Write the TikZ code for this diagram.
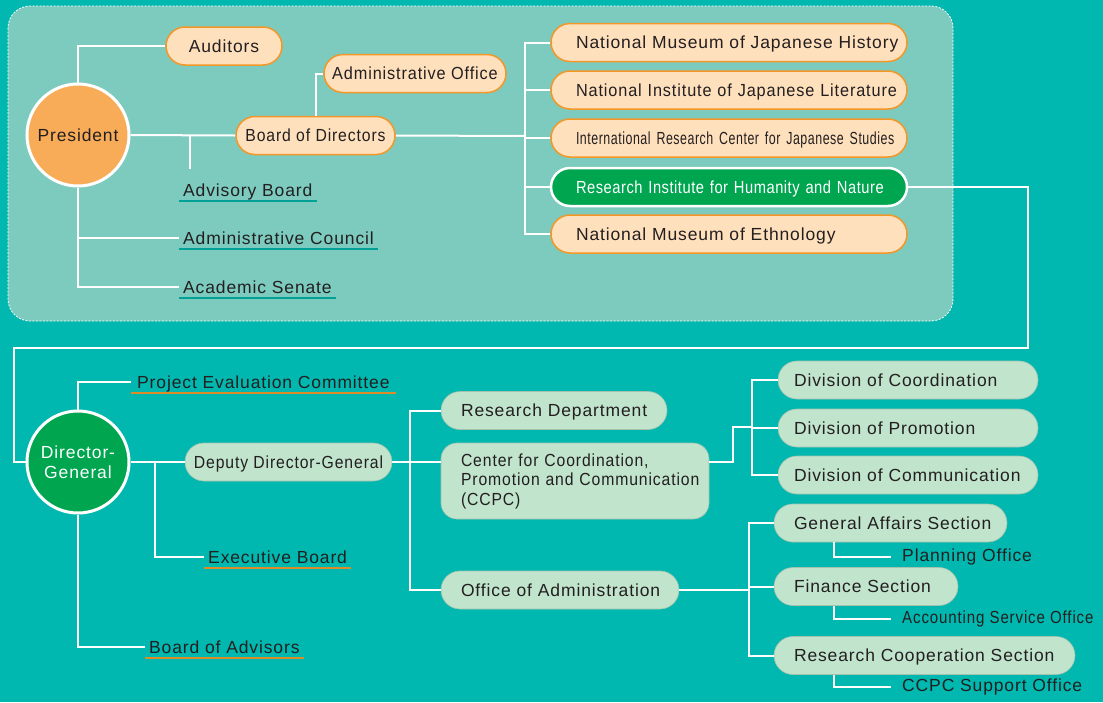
\documentclass[tikz,border=0pt]{standalone}
\usepackage{fontspec}
\setmainfont{Liberation Sans}[LetterSpace=5]
\newfontfamily\trimfont{Liberation Sans}[FakeStretch=0.93,LetterSpace=5]
\newfontfamily\slimfont{Liberation Sans}[FakeStretch=0.9,LetterSpace=5]
\newfontfamily\tightfont{Liberation Sans}[FakeStretch=0.86,LetterSpace=5]
\newfontfamily\narrowfont{Liberation Sans}[FakeStretch=0.84,LetterSpace=3]
\newfontfamily\narrowerfont{Liberation Sans}[FakeStretch=0.71,LetterSpace=3]
\usepackage{tikz}
\usetikzlibrary{positioning,calc}

\definecolor{bgteal}{RGB}{0,184,175}
\definecolor{panelfill}{RGB}{124,203,190}
\definecolor{peachfill}{RGB}{255,224,189}
\definecolor{orangeline}{RGB}{243,152,40}
\definecolor{presorange}{RGB}{248,172,88}
\definecolor{dggreen}{RGB}{0,165,80}
\definecolor{mintfill}{RGB}{193,228,205}
\definecolor{ulteal}{RGB}{0,160,150}
\definecolor{ulorange}{RGB}{222,140,40}
\definecolor{ink}{RGB}{35,31,32}

\tikzset{
  wire/.style={draw=white, line width=2pt},
  hub/.style={circle, draw=white, line width=3pt, minimum size=102pt, inner sep=0pt},
  box/.style={rectangle, inner ysep=0pt, text=ink},
  pill/.style={box, rounded corners=19pt, minimum height=38pt, text height=13pt, text depth=0.5pt},
  peach/.style={pill, draw=orangeline, line width=1.5pt, fill=peachfill},
  mint/.style={pill, draw=mintfill!85!black, line width=0.6pt, fill=mintfill},
  ulabel/.style={text=ink, inner xsep=4pt, inner ysep=5pt, text depth=0pt, anchor=base west},
  uline/.style={line width=1.5pt},
  subtext/.style={text=ink, inner xsep=11pt, anchor=west},
}

\begin{document}
\begin{tikzpicture}[x=1pt, y=-1pt, font=\fontsize{17.5}{19.5}\selectfont]

\useasboundingbox (0,0) rectangle (1103,702);
\fill[bgteal] (0,0) rectangle (1103,702);

% upper panel
\draw[fill=panelfill, draw=white, rounded corners=22pt, line width=0.8pt,
  dash pattern=on 2pt off 1.5pt] (8,6) rectangle (953,321);

% president and boards
\node[hub, fill=presorange, text=ink] (pres) at (78,135) {President};
\node[peach, minimum width=116pt] (aud) at (224,46) {Auditors};
\node[peach, minimum width=182pt] (ao) at (415,73.5) {\trimfont Administrative Office};
\node[peach, minimum width=159pt] (bod) at (315.5,135.5) {\slimfont Board of Directors};

\node[ulabel] (ab) at (179,196) {Advisory Board};
\node[ulabel] (acou) at (179,244) {Administrative Council};
\node[ulabel] (as) at (179,293) {Academic Senate};
\foreach \n in {ab,acou,as}
  \draw[uline, ulteal] (\n.south west) -- (\n.south east);

% institutes
\node[peach, inner xsep=25pt, text width=306pt, align=left] (nmjh) at (729,42.5) {\mbox{National Museum of Japanese History}};
\node[peach, inner xsep=25pt, text width=306pt, align=left] (nijl) at (729,90) {\mbox{\trimfont National Institute of Japanese Literature}};
\node[peach, inner xsep=25pt, text width=306pt, align=left] (irc) at (729,138) {\mbox{\narrowerfont International Research Center for Japanese Studies}};
\node[pill, fill=dggreen, draw=white, line width=2.5pt, text=white, inner xsep=25pt, text width=306pt, align=left] (rihn) at (729,187) {\mbox{\narrowfont Research Institute for Humanity and Nature}};
\node[peach, inner xsep=25pt, text width=306pt, align=left] (nme) at (729,234) {\mbox{National Museum of Ethnology}};

\draw[wire] (pres.north) |- (aud.west);
\draw[wire] (pres.east) -- (bod.west);
\draw[wire] (bod.north) |- (ao.west);
\coordinate (abtop) at (190,169);
\draw[wire] (abtop |- pres.east) -- (abtop);
\draw[wire] (pres.south) |- (acou.west);
\draw[wire] (pres.south) |- (as.west);
\coordinate (tb) at (525,136);
\draw[wire] (bod.east) -- (tb);
\foreach \n in {nmjh,nijl,irc,rihn,nme}
  \draw[wire] (\n.west) -| (tb);

% director-general
\node[hub, fill=dggreen, text=white, align=center, font=\fontsize{17.5}{20}\selectfont] (dg) at (78,462) {Director-\\General};
\coordinate (rt) at (1028,348);
\coordinate (lt) at (14,348);
\draw[wire] (rihn.east) -| (rt) -- (lt) |- (dg.west);

\node[ulabel, inner xsep=6pt] (pec) at (131,388) {Project Evaluation Committee};
\node[mint, minimum width=207pt] (ddg) at (288.5,462) {\slimfont Deputy Director-General};
\node[ulabel] (eb) at (204,563) {Executive Board};
\node[ulabel] (boa) at (145,653) {Board of Advisors};
\foreach \n in {pec,eb,boa}
  \draw[uline, ulorange] (\n.south west) -- (\n.south east);

\draw[wire] (dg.north) |- (pec.west);
\draw[wire] (dg.east) -- (ddg.west);
\coordinate (ebj) at (155,462);
\draw[wire] (ebj) |- (eb.west);
\draw[wire] (dg.south) |- (boa.west);

% departments
\node[mint, inner xsep=20pt, text width=186pt, align=left] (rd) at (554,410.5) {\mbox{Research Department}};
\node[box, fill=mintfill, draw=mintfill!85!black, line width=0.6pt, rounded corners=16pt,
  minimum height=76pt, inner xsep=20pt, text width=228pt, align=left] (ccpc) at (575,481)
  {\slimfont\mbox{Center for Coordination,}\\\mbox{Promotion and Communication}\\\mbox{(CCPC)}};
\node[mint, inner xsep=20pt, text width=198pt, align=left] (oa) at (560,590) {\mbox{Office of Administration}};

\coordinate (db) at (410,462);
\draw[wire] (ddg.east) -- (db);
\draw[wire] (rd.west) -| (db);
\draw[wire] (oa.west) -| (db);
\draw[wire] (db) -- (db -| ccpc.west);

% divisions of CCPC
\node[mint, inner xsep=16pt, text width=228pt, align=left] (dcoo) at (908,380) {\mbox{Division of Coordination}};
\node[mint, inner xsep=16pt, text width=228pt, align=left] (dpro) at (908,428) {\mbox{Division of Promotion}};
\node[mint, inner xsep=16pt, text width=228pt, align=left] (dcom) at (908,475) {\mbox{Division of Communication}};

\coordinate (ck) at (733,427);
\coordinate (cj) at (752,427);
\draw[wire] (ccpc.east |- db) -| (ck) -- (cj);
\foreach \n in {dcoo,dpro,dcom}
  \draw[wire] (\n.west) -| (cj);

% sections of administration
\node[mint, inner xsep=20pt, text width=193pt, align=left] (gas) at (890.5,523) {\mbox{General Affairs Section}};
\node[mint, inner xsep=20pt, text width=144pt, align=left] (fin) at (866,586.5) {\mbox{Finance Section}};
\node[mint, inner xsep=20pt, text width=261pt, align=left] (rcs) at (924.5,655.5) {\mbox{Research Cooperation Section}};

\coordinate (sj) at (749,590);
\draw[wire] (oa.east) -- (sj);
\foreach \n in {gas,fin,rcs}
  \draw[wire] (\n.west) -| (sj);

\node[subtext] (po) at (891,557) {Planning Office};
\node[subtext] (aso) at (891,619) {\tightfont Accounting Service Office};
\node[subtext] (cso) at (891,687) {CCPC Support Office};

\coordinate (pj) at (834,0);
\draw[wire] (gas.south -| pj) |- (po.west);
\draw[wire] (fin.south -| pj) |- (aso.west);
\draw[wire] (rcs.south -| pj) |- (cso.west);

\end{tikzpicture}
\end{document}
